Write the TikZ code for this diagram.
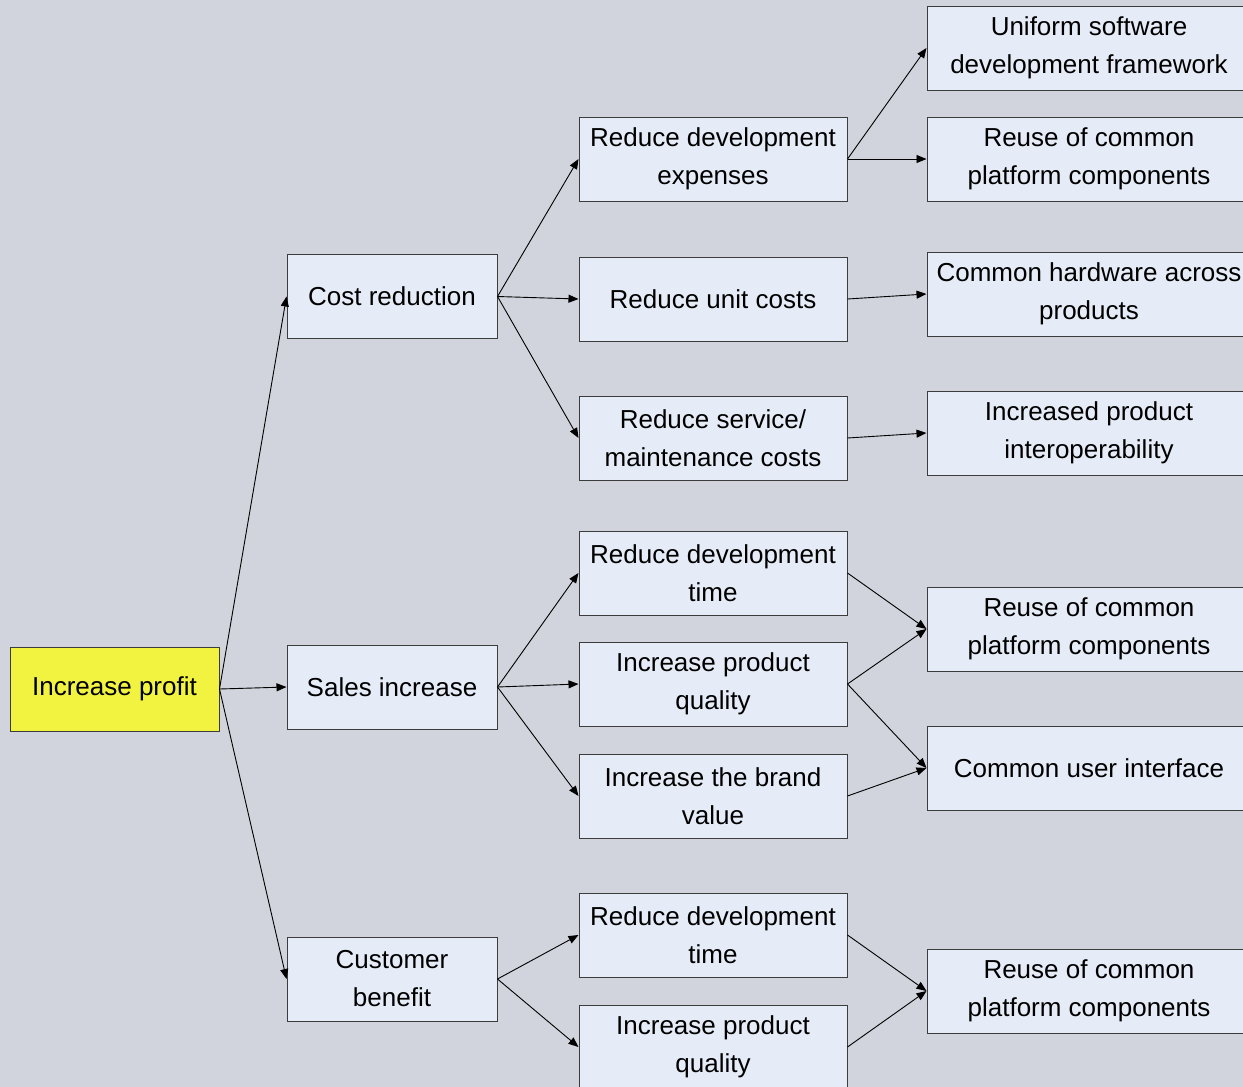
\documentclass[tikz,border=0pt]{standalone}
\usepackage{fontspec}
\setmainfont{Liberation Sans}
\usetikzlibrary{arrows.meta}
\definecolor{bgc}{RGB}{209,212,220}
\definecolor{boxc}{RGB}{230,236,247}
\definecolor{yel}{RGB}{242,242,65}
\definecolor{edgec}{RGB}{60,60,60}
\tikzset{
  box/.style={draw=edgec, line width=1pt, fill=boxc, align=center, inner sep=0pt,
    minimum height=84pt, font={\fontsize{26}{38}\selectfont}},
  lbox/.style={box, minimum width=210pt},
  mbox/.style={box, minimum width=268pt},
  rbox/.style={box, minimum width=324pt},
  root/.style={box, fill=yel, minimum width=209pt},
  conn/.style={line width=0.9pt, -{Triangle[length=10pt,width=8pt]}}
}
\begin{document}
\begin{tikzpicture}[x=1pt,y=-1pt]
\useasboundingbox (0,0) rectangle (1243,1087);
\clip (0,0) rectangle (1243,1087);
\fill[bgc] (0,0) rectangle (1243,1087);

\node[root] (ip) at (114.5,689) {Increase profit};

\node[lbox] (cr) at (392,296.5) {Cost reduction};
\node[lbox] (si) at (392,687) {Sales increase};
\node[lbox] (cb) at (392,979) {Customer\\benefit};

\node[mbox] (m1) at (713,159) {Reduce development\\expenses};
\node[mbox] (m2) at (713,299) {Reduce unit costs};
\node[mbox] (m3) at (713,438) {Reduce service/\\maintenance costs};
\node[mbox] (m4) at (713,573) {Reduce development\\time};
\node[mbox] (m5) at (713,684) {Increase product\\quality};
\node[mbox] (m6) at (713,796) {Increase the brand\\value};
\node[mbox] (m7) at (713,935) {Reduce development\\time};
\node[mbox] (m8) at (713,1047) {Increase product\\quality};

\node[rbox] (r1) at (1089,48) {Uniform software\\development framework};
\node[rbox] (r2) at (1089,159) {Reuse of common\\platform components};
\node[rbox] (r3) at (1089,294) {Common hardware across\\products};
\node[rbox] (r4) at (1089,433) {Increased product\\interoperability};
\node[rbox] (r5) at (1089,629) {Reuse of common\\platform components};
\node[rbox] (r6) at (1089,768) {Common user interface};
\node[rbox] (r7) at (1089,991) {Reuse of common\\platform components};

\draw[conn] (ip.east) -- (cr.west);
\draw[conn] (ip.east) -- (si.west);
\draw[conn] (ip.east) -- (cb.west);

\draw[conn] (cr.east) -- (m1.west);
\draw[conn] (cr.east) -- (m2.west);
\draw[conn] (cr.east) -- (m3.west);
\draw[conn] (si.east) -- (m4.west);
\draw[conn] (si.east) -- (m5.west);
\draw[conn] (si.east) -- (m6.west);
\draw[conn] (cb.east) -- (m7.west);
\draw[conn] (cb.east) -- (m8.west);

\draw[conn] (m1.east) -- (r1.west);
\draw[conn] (m1.east) -- (r2.west);
\draw[conn] (m2.east) -- (r3.west);
\draw[conn] (m3.east) -- (r4.west);
\draw[conn] (m4.east) -- (r5.west);
\draw[conn] (m5.east) -- (r5.west);
\draw[conn] (m5.east) -- (r6.west);
\draw[conn] (m6.east) -- (r6.west);
\draw[conn] (m7.east) -- (r7.west);
\draw[conn] (m8.east) -- (r7.west);
\end{tikzpicture}
\end{document}
